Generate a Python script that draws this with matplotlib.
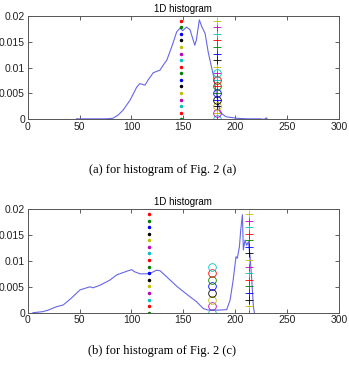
import numpy as np
import matplotlib
matplotlib.use("Agg")
import matplotlib.pyplot as plt

plt.rcParams['font.family'] = ['Liberation Sans', 'DejaVu Sans']

# histogram (a)
xa = [47, 55, 65, 75, 82, 87, 92, 98.6, 105, 108, 113, 116, 121, 127.5, 130.7, 134, 138.8,
      143.6, 146.8, 149.4, 153, 156.4, 161, 162.5, 165.4, 167.7, 170.9, 174, 178.9, 182,
      185.3, 191, 202, 212, 224, 228, 230, 231]
ya = [0.0001, 0.0001, 0.0001, 0.0001, 0.0002, 0.0008, 0.0018, 0.0037, 0.0062, 0.0069, 0.0066,
      0.0076, 0.009, 0.0095, 0.0105, 0.0114, 0.014, 0.0169, 0.0176, 0.0171, 0.0178, 0.0173,
      0.0143, 0.0153, 0.0192, 0.0179, 0.0166, 0.0129, 0.0085, 0.0048, 0.0014, 0.0005, 0.0002,
      0.0001, 0.0001, 0.0, 0.0003, 0.0]

# histogram (c)
xc = [5, 10, 14.4, 19.9, 27, 34.3, 42, 50.4, 60, 62.9, 69.7, 79.3, 85.8, 96.9, 100.2, 103,
      108.2, 114.7, 119, 124.3, 127.5, 134, 143.6, 153, 162.8, 169.2, 174, 185, 191.8, 195,
      198, 200.7, 202, 204, 205.3, 206.9, 207.8, 209.4, 211, 212.7, 214.3, 215.9, 217.5, 218.4]
yc = [0.0, 0.0001, 0.0002, 0.0005, 0.0011, 0.0015, 0.0028, 0.0044, 0.005, 0.0048, 0.0053,
      0.0063, 0.0073, 0.0081, 0.0083, 0.0079, 0.0075, 0.0075, 0.0077, 0.0082, 0.0081, 0.0069,
      0.0051, 0.0036, 0.0021, 0.0008, 0.0005, 0.0005, 0.0006, 0.0024, 0.0063, 0.0108, 0.0105,
      0.0127, 0.016, 0.0189, 0.0121, 0.014, 0.013, 0.0137, 0.0108, 0.0063, 0.0012, 0.0]

# marker columns
col_y = [0.0, 0.00127, 0.00254, 0.00381, 0.00508, 0.00635, 0.00762, 0.00889, 0.01016,
         0.01143, 0.0127, 0.01397, 0.01524, 0.01651, 0.01778, 0.01905]
dot_colors = ['g', 'r', 'c', 'm', 'y', 'k', 'b', 'g', 'r', 'c', 'm', 'y', 'k', 'b', 'g', 'r']
plus_colors = ['m', 'y', 'k', 'b', 'g', 'r', 'c', 'm', 'y', 'k', 'b', 'g', 'r', 'c', 'm', 'y']
circ_colors = ['c', 'm', 'y', 'k', 'b', 'g', 'r', 'c']

panels = [
    dict(x=xa, y=ya, dot_x=148, plus_x=182, circ_x=182, bottom=0.673,
         cap='(a) for histogram of Fig. 2 (a)', cap_y=0.526),
    dict(x=xc, y=yc, dot_x=117, plus_x=213, circ_x=178, bottom=0.1433,
         cap='(b) for histogram of Fig. 2 (c)', cap_y=0.030),
]

fig = plt.figure(figsize=(3.49, 3.65), dpi=100)
for p in panels:
    ax = fig.add_axes([0.0794, p['bottom'], 0.892, 0.284])
    ax.plot(p['x'], p['y'], color=(0.4, 0.4, 0.92), lw=0.8)
    for yv, c in zip(col_y, dot_colors):
        ax.plot(p['dot_x'], yv, '.', color=c, ms=3)
    for yv, c in zip(col_y, plus_colors):
        ax.plot(p['plus_x'], yv, '+', color=c, ms=6, mew=0.6)
    for yv, c in zip(col_y[:8], circ_colors):
        ax.plot(p['circ_x'], yv, 'o', mfc='none', mec=c, ms=5.5, mew=0.6)
    ax.set_xlim(0, 300)
    ax.set_ylim(0, 0.02)
    ax.set_xticks([0, 50, 100, 150, 200, 250, 300])
    ax.set_yticks([0, 0.005, 0.01, 0.015, 0.02])
    ax.set_yticklabels(['0', '0.005', '0.01', '0.015', '0.02'])
    ax.tick_params(direction='in', top=True, right=True, labelsize=7.5, length=3,
                   width=0.6, color='#444444', pad=2, labelcolor='#222222')
    for s in ax.spines.values():
        s.set_color('#555555')
        s.set_linewidth(0.7)
    ax.set_title('1D histogram', fontsize=7, pad=3)
    fig.text(0.465, p['cap_y'], p['cap'], ha='center', fontsize=9,
             family=['Liberation Serif', 'DejaVu Serif'])

fig.savefig('out.png', dpi=100)
